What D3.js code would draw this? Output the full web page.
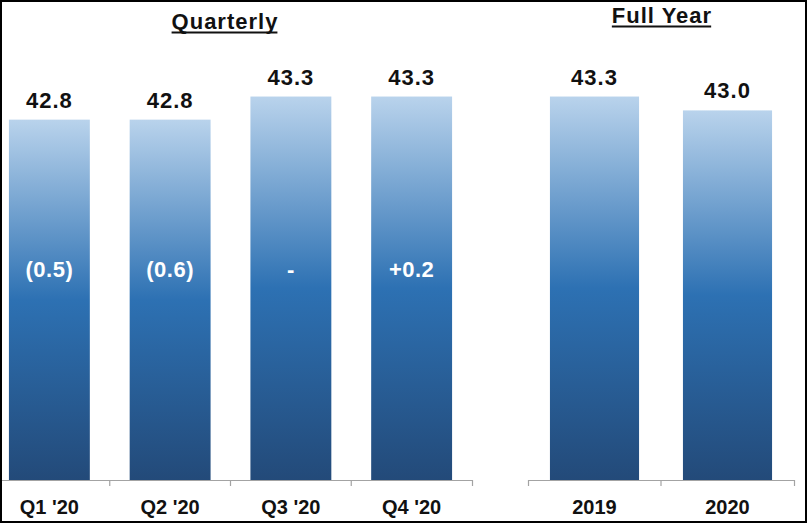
<!DOCTYPE html>
<html>
<head>
<meta charset="utf-8">
<script src="https://cdn.jsdelivr.net/npm/d3@7"></script>
<style>
  html, body { margin: 0; padding: 0; background: #fff; }
  svg { display: block; font-family: "Liberation Sans", Arial, sans-serif; }
</style>
</head>
<body>
<div id="chart"></div>
<script>
// Chart data
const quarters = ["Q1 '20", "Q2 '20", "Q3 '20", "Q4 '20"];
const quarterValues = [42.8, 42.8, 43.3, 43.3];
const quarterChanges = ["(0.5)", "(0.6)", "-", "+0.2"];
const years = ["2019", "2020"];
const yearValues = [43.3, 43.0];
const panelTitles = ["Quarterly", "Full Year"];

const width = 808;
const height = 524;
const baseY = 480;

const svg = d3.select("#chart")
  .append("svg")
  .attr("width", width)
  .attr("height", height);

// Bar gradient (light at top, dark at bottom)
const grad = svg.append("defs")
  .append("linearGradient")
  .attr("id", "barGrad")
  .attr("x1", 0).attr("y1", 0)
  .attr("x2", 0).attr("y2", 1);
grad.append("stop").attr("offset", "0%").attr("stop-color", "#b9d3ec");
grad.append("stop").attr("offset", "50%").attr("stop-color", "#2d71b3");
grad.append("stop").attr("offset", "100%").attr("stop-color", "#234a79");

const plot = svg.append("g");

// Shared value scale
const yScale = d3.scaleLinear()
  .domain([35, 45])
  .range([baseY, 18]);

// Two panels
const panels = [
  { title: panelTitles[0], cats: quarters, vals: quarterValues, changes: quarterChanges,
    range: [-11, 472], titleX: 225, titleY: 29 },
  { title: panelTitles[1], cats: years, vals: yearValues, changes: null,
    range: [528, 794], titleX: 662, titleY: 23 }
];

panels.forEach(function(p) {
  const xScale = d3.scaleBand()
    .domain(p.cats)
    .range(p.range)
    .paddingInner(0.33)
    .paddingOuter(0.165);

  const g = plot.append("g");
  const rows = p.cats.map(function(c, i) {
    return { cat: c, val: p.vals[i], change: p.changes ? p.changes[i] : null };
  });

  // Bars
  g.selectAll("rect.bar")
    .data(rows)
    .enter()
    .append("rect")
    .attr("class", "bar")
    .attr("x", d => xScale(d.cat))
    .attr("y", d => yScale(d.val))
    .attr("width", xScale.bandwidth())
    .attr("height", d => baseY - yScale(d.val))
    .attr("fill", "url(#barGrad)");

  // Axis line with outer ticks
  const axis = g.append("g")
    .attr("transform", "translate(0," + baseY + ")")
    .call(d3.axisBottom(xScale).tickSize(0).tickSizeOuter(6).tickPadding(0));
  axis.select(".domain").attr("stroke", "#a3a3a3").attr("stroke-width", 1.2);
  axis.selectAll(".tick text")
    .attr("y", 34)
    .attr("dy", 0)
    .attr("fill", "#111")
    .style("font-size", "20px")
    .style("font-weight", "bold")
    .style("font-family", "'Liberation Sans', Arial, sans-serif");

  // Inner ticks at band boundaries
  const step = xScale.step();
  g.selectAll("line.sep")
    .data(p.cats.slice(1))
    .enter()
    .append("line")
    .attr("class", "sep")
    .attr("x1", d => xScale(d) - step * 0.33 / 2)
    .attr("x2", d => xScale(d) - step * 0.33 / 2)
    .attr("y1", baseY)
    .attr("y2", baseY + 6)
    .attr("stroke", "#a3a3a3")
    .attr("stroke-width", 1.2);

  // Value labels
  g.selectAll("text.val")
    .data(rows)
    .enter()
    .append("text")
    .attr("class", "val")
    .attr("x", d => xScale(d.cat) + xScale.bandwidth() / 2)
    .attr("y", d => yScale(d.val) - 12)
    .attr("text-anchor", "middle")
    .attr("fill", "#111")
    .style("font-size", "22px")
    .style("font-weight", "bold")
    .style("letter-spacing", "1px")
    .text(d => d.val.toFixed(1));

  // Change labels inside bars
  if (p.changes) {
    g.selectAll("text.chg")
      .data(rows)
      .enter()
      .append("text")
      .attr("class", "chg")
      .attr("x", d => xScale(d.cat) + xScale.bandwidth() / 2)
      .attr("y", 277)
      .attr("text-anchor", "middle")
      .attr("fill", "#fff")
      .style("font-size", "22px")
      .style("font-weight", "bold")
      .style("letter-spacing", "0.5px")
      .text(d => d.change);
  }

  // Panel title, underlined
  const t = g.append("text")
    .attr("x", p.titleX)
    .attr("y", p.titleY)
    .attr("text-anchor", "middle")
    .attr("fill", "#111")
    .style("font-size", "22px")
    .style("font-weight", "bold")
    .style("letter-spacing", "1px")
    .text(p.title);
  const bb = t.node().getBBox();
  g.append("line")
    .attr("x1", bb.x)
    .attr("x2", bb.x + bb.width - 1)
    .attr("y1", p.titleY + 3.5)
    .attr("y2", p.titleY + 3.5)
    .attr("stroke", "#111")
    .attr("stroke-width", 2);
});

// Frame
svg.append("rect")
  .attr("x", 1)
  .attr("y", 1)
  .attr("width", 805)
  .attr("height", 521)
  .attr("fill", "none")
  .attr("stroke", "#000")
  .attr("stroke-width", 2);
</script>
</body>
</html>
